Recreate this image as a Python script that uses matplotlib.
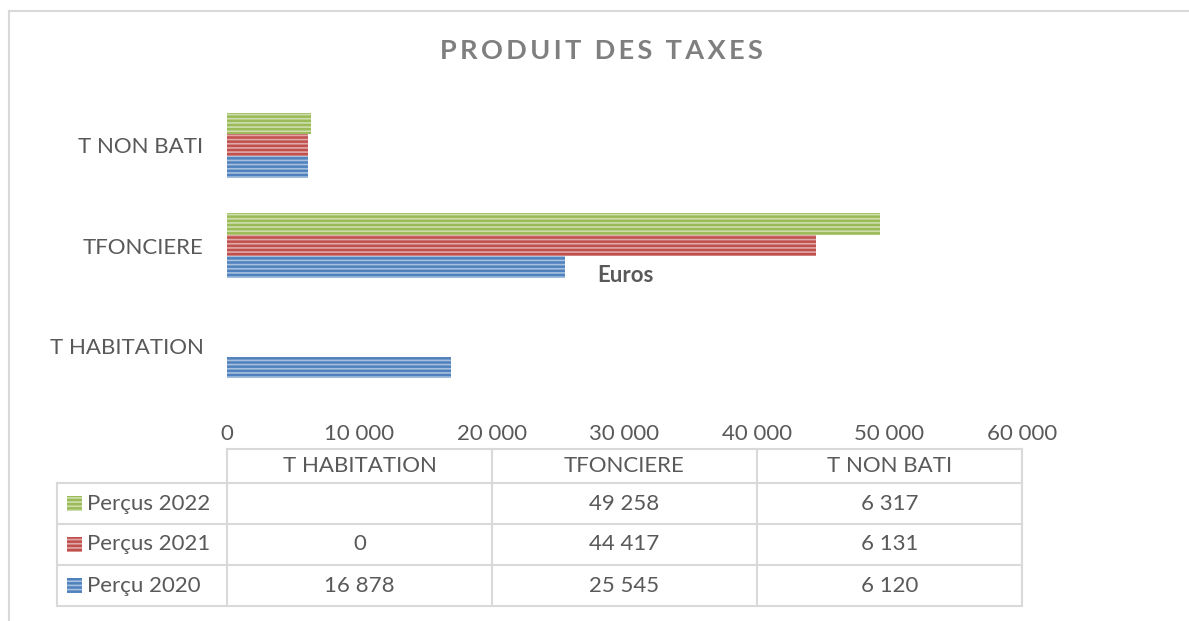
import matplotlib
matplotlib.use('Agg')
import matplotlib.pyplot as plt
from matplotlib.lines import Line2D
from matplotlib.patches import Rectangle

categories = ['T HABITATION', 'TFONCIERE', 'T NON BATI']
series_names = ['Perçu 2020', 'Perçus 2021', 'Perçus 2022']
percu_2020 = [16878, 25545, 6120]
percus_2021 = [0, 44417, 6131]
percus_2022 = [None, 49258, 6317]
series_values = [percu_2020, percus_2021, percus_2022]
colors = ['#4F81BD', '#C0504D', '#9BBB59']
stripe_colors = ['#A7C0DE', '#E0A8A6', '#CDDDAC']
xticks = [0, 10000, 20000, 30000, 40000, 50000, 60000]

W, H = 1189, 621
plt.rcParams['font.family'] = ['Lato', 'DejaVu Sans']
plt.rcParams['hatch.linewidth'] = 1.2
text_color = '#595959'
grid_color = '#D9D9D9'
fs = 16


def fx(x):
    return x / W


def fy(y):
    return 1 - y / H


def fmt(v):
    return '{:,}'.format(v).replace(',', ' ')


fig = plt.figure(figsize=(W / 100, H / 100), dpi=100)

# outer chart border
fig.add_artist(Line2D([fx(9), fx(W + 5)], [fy(11), fy(11)], color='#D9D9D9', lw=1.5))
fig.add_artist(Line2D([fx(9), fx(9)], [fy(11), fy(H + 5)], color='#D9D9D9', lw=1.5))

left, right, top, bottom = 227, 1022, 95, 396
ax = fig.add_axes([fx(left), fy(bottom), (right - left) / W, (bottom - top) / H])

bar_h = 0.216
offsets = [-bar_h, 0, bar_h]
for vals, off, c, sc in zip(series_values, offsets, colors, stripe_colors):
    for i, v in enumerate(vals):
        if v is None or v == 0:
            continue
        ax.barh(i + off, v, height=bar_h, color=c, edgecolor=sc, linewidth=0, hatch='----')

ax.set_xlim(0, 60000)
ax.set_ylim(-0.5, 2.5)
ax.set_xticks(xticks)
ax.set_xticklabels([fmt(t) for t in xticks], fontsize=fs, color=text_color)
ax.set_yticks(range(len(categories)))
ax.set_yticklabels(categories, fontsize=fs, color=text_color)
ax.tick_params(axis='x', length=0, pad=20)
ax.tick_params(axis='y', length=0, pad=17)
for s in ax.spines.values():
    s.set_visible(False)

title = '\u2009'.join('PRODUIT DES TAXES')
fig.text(fx(601), fy(51), title, ha='center', va='center',
         fontsize=19.5, fontweight='bold', color='#7F7F7F')
fig.text(fx(625), fy(275), 'Euros', ha='center', va='center', fontsize=fs,
         fontweight='bold', color=text_color)

# data table
col_x = [227, 492, 757, 1022]
label_x = 57
header_top, header_bot = 449, 483
row_lines = [483, 524, 565, 606]


def hline(x0, x1, y):
    fig.add_artist(Line2D([fx(x0), fx(x1)], [fy(y), fy(y)], color=grid_color, lw=1.5))


def vline(x, y0, y1):
    fig.add_artist(Line2D([fx(x), fx(x)], [fy(y0), fy(y1)], color=grid_color, lw=1.5))


hline(col_x[0], col_x[-1], header_top)
for y in row_lines:
    hline(label_x, col_x[-1], y)
for x in col_x:
    vline(x, header_top, row_lines[-1])
vline(label_x, row_lines[0], row_lines[-1])

for j, cat in enumerate(categories):
    fig.text(fx((col_x[j] + col_x[j + 1]) / 2), fy((header_top + header_bot) / 2), cat,
             ha='center', va='center', fontsize=fs, color=text_color)

# rows from top: 2022, 2021, 2020
for r, k in enumerate([2, 1, 0]):
    yc = (row_lines[r] + row_lines[r + 1]) / 2
    fig.add_artist(Rectangle((fx(67), fy(yc + 7)), 15 / W, 15 / H, facecolor=colors[k],
                             edgecolor=stripe_colors[k], linewidth=0, hatch='----'))
    fig.text(fx(87), fy(yc), series_names[k], ha='left', va='center', fontsize=fs,
             color=text_color)
    for j, v in enumerate(series_values[k]):
        if v is None:
            continue
        fig.text(fx((col_x[j] + col_x[j + 1]) / 2), fy(yc), fmt(v), ha='center',
                 va='center', fontsize=fs, color=text_color)

fig.savefig('out.png', dpi=100)
